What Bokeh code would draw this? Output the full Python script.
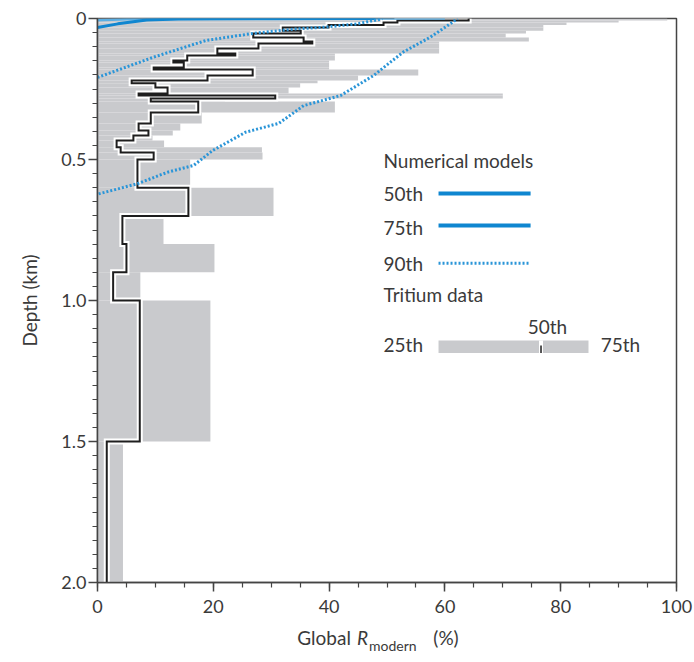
from bokeh.plotting import figure
from bokeh.layouts import column
from bokeh.models import Range1d, FixedTicker, CustomJSTickFormatter, Label, ColumnDataSource
from bokeh.embed import file_html
from bokeh.resources import INLINE

# ---------------- data ----------------
depth_edges = [0.000, 0.007, 0.014, 0.023, 0.032, 0.043, 0.053, 0.067, 0.082, 0.089,
               0.106, 0.124, 0.131, 0.149, 0.156, 0.174, 0.181, 0.202, 0.220, 0.230,
               0.245, 0.266, 0.273, 0.284, 0.294, 0.333, 0.372, 0.397, 0.415, 0.433,
               0.457, 0.475, 0.500, 0.600, 0.700, 0.800, 0.900, 1.000, 1.500, 2.000]
tritium_q25 = [0.0] * 39
tritium_q50 = [64.1, 51.8, 49.4, 39.9, 32.0, 35.1, 26.9, 35.6, 37.1, 27.8,
               20.7, 23.8, 15.5, 13.1, 14.9, 9.7, 26.8, 19.0, 5.9, 10.0,
               12.1, 7.1, 30.7, 9.2, 17.4, 9.2, 7.1, 8.8, 6.2, 3.3,
               4.0, 9.7, 6.9, 15.7, 4.3, 5.0, 2.7, 7.3, 1.6]
tritium_q75 = [98.4, 90, 81, 77, 77, 74, 70.5, 74.5, 59, 59,
               59, 41, 41, 40, 40, 40, 55.4, 45, 38, 35,
               33, 70, 70, 22, 41, 18, 14.3, 13, 9.5, 11.5,
               28.4, 28.5, 16, 30.4, 11.4, 20.2, 7.4, 19.5, 4.4]

model50_r = [0, 3.5, 8.5, 14, 30, 48]
model50_d = [0.032, 0.019, 0.005, 0.002, 0.0005, 0.0]
model75_r = [0, 5, 20, 40, 60]
model75_d = [0.006, 0.003, 0.0012, 0.0003, 0.0]
model90a_r = [0, 9.7, 18.7, 26.8, 34.2, 39.0, 44.9, 49.2]
model90a_d = [0.209, 0.137, 0.078, 0.053, 0.037, 0.031, 0.019, 0.001]
model90b_r = [0.2, 6.9, 12.1, 16.6, 19.9, 25.6, 31.3, 35.6, 42.0, 47.7, 52.8, 57.5, 62.2]
model90b_d = [0.622, 0.586, 0.545, 0.521, 0.468, 0.403, 0.372, 0.309, 0.273, 0.202, 0.119, 0.066, 0.001]

x_major = [0, 20, 40, 60, 80, 100]
y_major = [0, 0.5, 1.0, 1.5, 2.0]

# ---------------- styles ----------------
GRAY = "#c9cacd"
BLUE = "#0f86d0"
DOT = "#2a95d8"
TXT = "#3a3a3a"
AX = "#444444"
FONT = "Lato"

p = figure(frame_width=579, frame_height=564, min_border_left=97, min_border_right=18,
           min_border_top=18, min_border_bottom=36,
           x_range=Range1d(0, 100), y_range=Range1d(2.0, 0.0),
           output_backend="svg", toolbar_location=None, tools="")
p.xgrid.visible = False
p.ygrid.visible = False
p.outline_line_color = AX
p.outline_line_width = 1.5
p.background_fill_color = "white"

tops = depth_edges[:-1]
bots = depth_edges[1:]
src = ColumnDataSource(dict(top=tops, bottom=bots, left=tritium_q25, right=tritium_q75))
p.quad(left="left", right="right", top="top", bottom="bottom", source=src,
       fill_color=GRAY, line_color=None)

# median step line
sx, sy = [], []
for t_, b_, m_ in zip(tops, bots, tritium_q50):
    sx += [m_, m_]
    sy += [t_, b_]
p.line(sx, sy, line_color="white", line_width=6, line_join="miter")
p.line(sx, sy, line_color="#1e1e1e", line_width=2, line_join="miter")

# model curves
p.line(model75_r, model75_d, line_color="#5aaee3", line_width=2.5)
p.line(model50_r, model50_d, line_color=BLUE, line_width=3)
p.line(model90a_r, model90a_d, line_color=DOT, line_width=3, line_dash="2 2")
p.line(model90b_r, model90b_d, line_color=DOT, line_width=3, line_dash="2 2")

# axes
for ax in (p.xaxis[0], p.yaxis[0]):
    ax.axis_line_color = AX
    ax.axis_line_width = 1.5
    ax.major_tick_line_color = AX
    ax.minor_tick_line_color = AX
    ax.major_tick_line_width = 1.5
    ax.minor_tick_line_width = 1.2
    ax.major_tick_in = 0
    ax.minor_tick_in = 0
    ax.major_tick_out = 9
    ax.minor_tick_out = 5
    ax.major_label_text_font = FONT
    ax.major_label_text_font_size = "18px"
    ax.major_label_text_color = TXT

p.xaxis.ticker = FixedTicker(ticks=x_major, minor_ticks=[i * 5 for i in range(21)])
p.yaxis.ticker = FixedTicker(ticks=y_major, minor_ticks=[i * 0.05 for i in range(41)])
p.yaxis.formatter = CustomJSTickFormatter(code="return tick == 0 ? '0' : tick.toFixed(1);")
p.xaxis.major_label_standoff = 8
p.yaxis.major_label_standoff = 2
p.yaxis.axis_label = "Depth (km)"
p.yaxis.axis_label_text_font = FONT
p.yaxis.axis_label_text_font_size = "19px"
p.yaxis.axis_label_text_font_style = "normal"
p.yaxis.axis_label_text_color = TXT
p.yaxis.axis_label_standoff = 17

def lab(fig, text, x, y, size="19px", style="normal", align="left", base="middle"):
    fig.add_layout(Label(x=x, y=y, text=text, text_font=FONT, text_font_size=size,
                         text_font_style=style, text_color=TXT, text_align=align,
                         text_baseline=base))

# legend
lab(p, "Numerical models", 49.4, 0.504)
lab(p, "50th", 49.4, 0.621)
lab(p, "75th", 49.4, 0.741)
lab(p, "90th", 49.4, 0.868)
lab(p, "Tritium data", 49.4, 0.979)
lab(p, "50th", 77.7, 1.092, align="center")
lab(p, "25th", 49.4, 1.156)
lab(p, "75th", 86.9, 1.156)

p.segment(x0=[58.9], x1=[74.8], y0=[0.621], y1=[0.621], line_color=BLUE, line_width=4)
p.segment(x0=[58.9], x1=[74.8], y0=[0.734], y1=[0.734], line_color=BLUE, line_width=4)
p.segment(x0=[58.9], x1=[74.6], y0=[0.868], y1=[0.868], line_color=DOT,
          line_width=3, line_dash="2 2")
p.quad(left=[58.9], right=[84.8], top=[1.142], bottom=[1.186], fill_color=GRAY, line_color=None)
p.segment(x0=[76.6], x1=[76.6], y0=[1.142], y1=[1.186], line_color="white", line_width=4)
p.segment(x0=[76.6], x1=[76.6], y0=[1.160], y1=[1.186], line_color="#1e1e1e", line_width=1.5)

# x-axis title strip (italic R with subscript); its frame aligns with the main frame
t = figure(width=694, height=44, x_range=Range1d(0, 100), y_range=Range1d(0, 44),
           min_border=0, output_backend="svg", toolbar_location=None, tools="",
           x_axis_type=None, y_axis_type=None)
t.outline_line_color = None
t.xgrid.visible = False
t.ygrid.visible = False
lab(t, "Global", 34.5, 25, base="alphabetic")
lab(t, "R", 44.8, 25, style="italic", base="alphabetic")
lab(t, "modern", 46.9, 17, size="14px", base="alphabetic")
lab(t, "(%)", 58.0, 25, base="alphabetic")

open("out.html", "w").write(file_html(column(p, t, spacing=0), INLINE))
